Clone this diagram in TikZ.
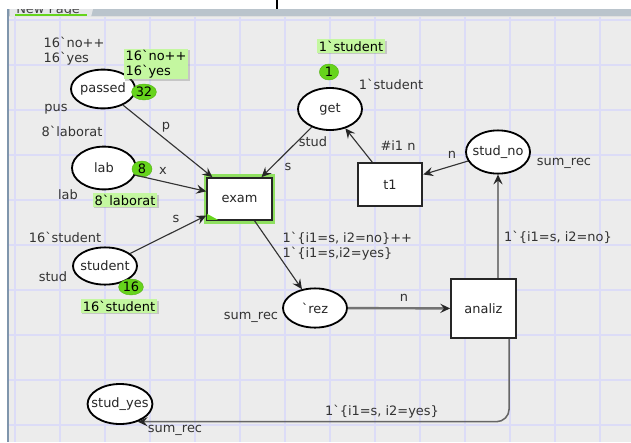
\documentclass[tikz,border=0pt]{standalone}
\usepackage{fontspec}
\setmainfont{DejaVu Sans}[Ligatures=TeXOff]
\usepackage{xcolor}
\usetikzlibrary{positioning, arrows.meta, shapes, shadows}

\definecolor{canvas}{HTML}{ECECEC}
\definecolor{gridline}{HTML}{DCDCF7}
\definecolor{tabbar}{HTML}{BAC4CC}
\definecolor{tabface}{HTML}{E4E6E8}
\definecolor{frameline}{HTML}{7F95AC}
\definecolor{tokengreen}{HTML}{66D41C}
\definecolor{tipgreen}{HTML}{C4F7A0}
\definecolor{glow}{HTML}{8FE060}
\definecolor{arcgray}{HTML}{333333}

% keep place names from stretching the ellipses
\newcommand{\nm}[1]{\makebox[0pt]{#1}}

\begin{document}
\begin{tikzpicture}
                [
                x=0.025cm, y=-0.025cm,
                every node/.style={font=\fontsize{9.2}{10.5}\selectfont, text=black!85},
                place/.style={ellipse,draw=black,line width=1.3pt,fill=white,inner sep=0pt,minimum width=1.6cm},
                trans/.style={rectangle,draw=black!85,line width=1.3pt,fill=white,minimum width=1.62cm},
                token/.style={ellipse,fill=tokengreen,draw=tokengreen!85!black,line width=0.3pt,inner sep=0pt,minimum height=0.4cm,text=black},
                tip/.style={fill=tipgreen,inner xsep=1.5pt,inner ysep=1pt,align=left,text=black,
                            drop shadow={shadow xshift=1pt,shadow yshift=-1pt,opacity=0.35}},
                lbl/.style={inner sep=1pt,text=black!80},
                arc/.style={-{Stealth[length=7pt,width=6.5pt,inset=2.6pt,color=black!85]},draw=arcgray,line width=0.8pt}
                ]
            \useasboundingbox (0,0) rectangle (631,442);

            % window frame and grid
            \fill[white] (0,0) rectangle (631,442);
            \draw[line width=0.8pt] (277,0) -- (277,9);
            \fill[tabbar] (9,9) rectangle (631,16);
            \fill[black!12] (9,16) rectangle (631,17);
            \fill[tabface] (10,9) -- (93,9) -- (91,17) -- (10,17) -- cycle;
            \begin{scope}
                \clip (10,9) rectangle (93,17);
                \node[anchor=base west,inner sep=0pt,text=black!75] (tabname) at (16,13) {New Page};
            \end{scope}
            \draw[tokengreen,line width=1.2pt] (15,15) -- (87,15);
            \fill[canvas] (9,17) rectangle (631,442);
            \foreach \gx in {15,60,...,600}
                \draw[gridline,line width=0.9pt] (\gx,17) -- (\gx,442);
            \foreach \gy in {20,65,...,425}
                \draw[gridline,line width=0.9pt] (9,\gy) -- (631,\gy);
            \draw[frameline,line width=1.4pt] (8,9) -- (8,442);

            % places
            \node[place,minimum height=0.97cm] (passed) at (103,89) {\nm{passed}};
            \node[place,minimum height=1.07cm] (lab) at (104,168) {\nm{lab}};
            \node[place,minimum height=0.93cm] (student) at (105,266) {\nm{student}};
            \node[place,minimum height=1.05cm] (get) at (330,109) {\nm{get}};
            \node[place,minimum height=1.08cm] (studno) at (498,152) {\nm{stud\_no}};
            \node[place,minimum height=0.98cm] (rez) at (315,308) {\nm{`rez}};
            \node[place,minimum height=1cm,minimum width=1.62cm] (studyes) at (120,404) {\nm{stud\_yes}};

            % transitions
            \node[trans,minimum height=1.05cm,preaction={draw=glow,line width=5pt}] (exam) at (239.5,199) {exam};
            \fill[tokengreen] ([shift={(1,-1)}]exam.south west) -- ++(0,-6) -- ++(11,6) -- cycle;
            \node[trans,minimum height=1.07cm] (t1) at (390,184.5) {t1};
            \node[trans,minimum height=1.47cm] (analiz) at (483.5,308.5) {analiz};

            % colour sets and initial markings
            \node[lbl,anchor=west,align=left] (passedinit) at (42,51) {16`no++\\16`yes};
            \node[lbl] (passedcs) at (56,109) {pus};
            \node[lbl] (labinit) at (72,131) {8`laborat};
            \node[lbl] (labcs) at (68,195) {lab};
            \node[lbl] (studentinit) at (65,237) {16`student};
            \node[lbl] (studentcs) at (53,277) {stud};
            \node[lbl] (getinit) at (391,84) {1`student};
            \node[lbl] (getcs) at (313,142) {stud};
            \node[lbl] (studnocs) at (564,163) {sum\_rec};
            \node[lbl] (rezcs) at (251,317) {sum\_rec};
            \node[lbl] (studyescs) at (175,430) {sum\_rec};

            % current markings
            \node[token,minimum width=0.62cm] (passedtok) at (144,92) {\nm{32}};
            \node[token,minimum width=0.5cm] (labtok) at (142,169) {\nm{8}};
            \node[token,minimum width=0.62cm] (studenttok) at (131,287) {\nm{16}};
            \node[token,minimum width=0.48cm] (gettok) at (329,72) {\nm{1}};
            \node[tip] (passedmark) at (156,64) {16`no++\\16`yes};
            \node[tip] (labmark) at (125,200) {8`laborat};
            \node[tip] (studentmark) at (119,306) {16`student};
            \node[tip] (getmark) at (351,46) {1`student};

            % arcs
            \draw[arc] (passed) -- (exam);
            \draw[arc] (lab) -- (exam);
            \draw[arc] (student) -- (exam);
            \draw[arc] (get) -- (exam);
            \draw[arc] (exam) -- (rez);
            \draw[arc] (t1) -- (get);
            \draw[arc] (studno) -- (t1);
            \draw[arc,draw=black!55,line width=1.7pt] (rez) -- (analiz);
            \draw[arc,draw=black!50,line width=1.1pt] (analiz.north -| studno) -- (studno);
            \draw[arc,draw=black!60,line width=1.1pt,rounded corners=9]
                ([xshift=0.64cm]analiz.south) |- (studyes.-45);

            % arc inscriptions
            \node[lbl] (pin) at (166,127) {p};
            \node[lbl] (xin) at (163,171) {x};
            \node[lbl] (sin) at (176,219) {s};
            \node[lbl] (getout) at (288,167) {s};
            \node[lbl] (t1out) at (398,146) {\#i1 n};
            \node[lbl] (t1in) at (452,155) {n};
            \node[lbl,anchor=west,align=left] (examout) at (281,246) {1`\{i1=s, i2=no\}++\\1`\{i1=s,i2=yes\}};
            \node[lbl] (analizin) at (404,298) {n};
            \node[lbl] (noout) at (558,237) {1`\{i1=s, i2=no\}};
            \node[lbl] (yesout) at (382,412) {1`\{i1=s, i2=yes\}};
\end{tikzpicture}
\end{document}
